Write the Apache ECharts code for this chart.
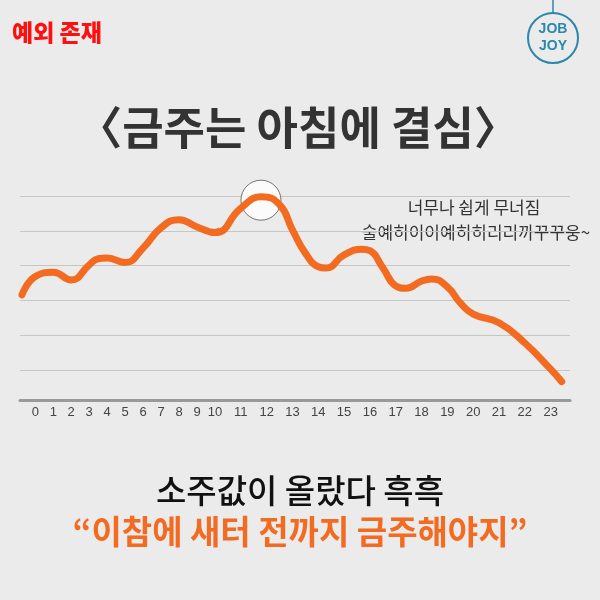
<!DOCTYPE html>
<html>
<head>
<meta charset="utf-8">
<script src="https://cdn.jsdelivr.net/npm/echarts@6/dist/echarts.min.js"></script>
<style>
  html, body { margin: 0; padding: 0; background: #ebebeb; }
  #chart { width: 600px; height: 600px; }
</style>
</head>
<body>
<div id="chart"></div>
<script>
// 시간대 (x축 눈금)
const hourLabels = [0, 1, 2, 3, 4, 5, 6, 7, 8, 9, 10, 11, 12, 13, 14, 15, 16, 17, 18, 19, 20, 21, 22, 23]
// 곡선 위의 점: 시간, 결심 정도
const curveHours = [-0.74, 0, 1, 2, 3, 3.5, 4, 5, 6, 7, 8, 9, 10, 11, 11.8, 12.5, 13, 13.5, 14, 14.3, 15, 15.7, 16, 16.5, 17, 17.4, 18, 18.4, 19, 19.5, 20, 21, 22, 23, 23.43]
const curveValues = [3.16, 3.69, 3.81, 3.59, 4.02, 4.2, 4.22, 4.09, 4.51, 5.09, 5.32, 5.11, 4.95, 5.65, 5.98, 5.75, 5.03, 4.36, 3.97, 3.93, 4.31, 4.47, 4.43, 3.94, 3.42, 3.35, 3.56, 3.62, 3.39, 2.93, 2.61, 2.36, 1.78, 1.03, 0.67]
// 최고점 동그라미
const peakPoint = [11.78, 5.88]

const ORANGE = '#f26b21'
const FONT = '"Noto Sans CJK KR", "Noto Sans", sans-serif'

const chart = echarts.init(document.getElementById('chart'))

const points = curveHours.map((h, i) => [h, curveValues[i]])
// 오전(0~9시)은 눈금 간격이 좁고, 10시 이후는 넓어서 두 구간으로 나눔
const morning = points.filter(p => p[0] <= 11)
const afternoon = points.filter(p => p[0] >= 9)

const xAxisBase = (labels) => ({
  type: 'value',
  offset: -5,
  axisLine: { show: true, lineStyle: { color: '#9a9a9a', width: 3 } },
  axisTick: { show: false },
  splitLine: { show: false },
  axisLabel: {
    customValues: labels,
    color: '#444',
    fontSize: 13,
    margin: 6,
    fontFamily: '"Liberation Sans", Arial, sans-serif'
  }
})

const yAxisBase = (gridIndex) => ({
  type: 'value',
  gridIndex,
  min: 0,
  max: 6,
  interval: 1,
  axisLine: { show: false },
  axisTick: { show: false },
  axisLabel: { show: false },
  splitLine: { show: true, showMinLine: false, lineStyle: { color: '#c6c6c6', width: 1 } }
})

const lineStyle = { color: ORANGE, width: 7, cap: 'round', join: 'round' }

chart.setOption({
  backgroundColor: '#ebebeb',
  animation: false,
  grid: [
    { left: 20, width: 195, top: 196, bottom: 195 },
    { left: 215, width: 355, top: 196, bottom: 195 }
  ],
  xAxis: [
    Object.assign(xAxisBase(hourLabels.filter(h => h < 10)), { gridIndex: 0, min: -0.85, max: 10 }),
    Object.assign(xAxisBase(hourLabels.filter(h => h >= 10)), { gridIndex: 1, min: 10, max: 23.75 })
  ],
  yAxis: [yAxisBase(0), yAxisBase(1)],
  series: [
    {
      type: 'scatter',
      xAxisIndex: 1,
      yAxisIndex: 1,
      z: 1,
      symbolSize: 40,
      itemStyle: { color: '#ffffff', borderColor: '#555', borderWidth: 1 },
      data: [peakPoint]
    },
    {
      type: 'line',
      xAxisIndex: 0,
      yAxisIndex: 0,
      z: 3,
      smooth: 0.5,
      showSymbol: false,
      lineStyle,
      data: morning
    },
    {
      type: 'line',
      xAxisIndex: 1,
      yAxisIndex: 1,
      z: 3,
      smooth: 0.5,
      showSymbol: false,
      lineStyle,
      data: afternoon
    }
  ],
  graphic: [
    {
      type: 'text', left: 12, top: 21,
      style: { text: '예외 존재', fill: '#ff1010', font: '900 23px ' + FONT }
    },
    {
      type: 'text', x: 298, y: 128,
      style: { text: '〈금주는 아침에 결심〉', fill: '#333', font: 'bold 45px ' + FONT, textAlign: 'center', textVerticalAlign: 'middle' }
    },
    {
      type: 'text', x: 474, y: 208,
      style: { text: '너무나 쉽게 무너짐', fill: '#333', font: '17px ' + FONT, textAlign: 'center', textVerticalAlign: 'middle' }
    },
    {
      type: 'text', x: 476, y: 233,
      style: { text: '술예히이이예히히리리까꾸꾸웅~', fill: '#333', font: '17px ' + FONT, textAlign: 'center', textVerticalAlign: 'middle' }
    },
    {
      type: 'text', x: 300, y: 490,
      style: { text: '소주값이 올랐다 흑흑', fill: '#111', font: '500 33px ' + FONT, textAlign: 'center', textVerticalAlign: 'middle' }
    },
    {
      type: 'text', x: 300, y: 531,
      style: { text: '“이참에 새터 전까지 금주해야지”', fill: ORANGE, font: 'bold 33px ' + FONT, textAlign: 'center', textVerticalAlign: 'middle' }
    },
    // JOB JOY 로고
    {
      type: 'group',
      children: [
        { type: 'line', shape: { x1: 553, y1: 0, x2: 553, y2: 13 }, style: { stroke: '#2a88ad', lineWidth: 1.5 } },
        { type: 'circle', shape: { cx: 553, cy: 38, r: 25 }, style: { fill: 'none', stroke: '#2a88ad', lineWidth: 2 } },
        { type: 'text', x: 553, y: 29, style: { text: 'JOB', fill: '#2a88ad', font: 'bold 14px "Liberation Sans", sans-serif', textAlign: 'center', textVerticalAlign: 'middle' } },
        { type: 'text', x: 553, y: 46, style: { text: 'JOY', fill: '#2a88ad', font: 'bold 14px "Liberation Sans", sans-serif', textAlign: 'center', textVerticalAlign: 'middle' } }
      ]
    }
  ]
})
</script>
</body>
</html>
